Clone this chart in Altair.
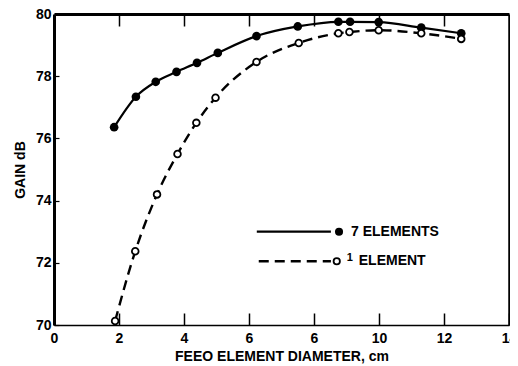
import altair as alt
import pandas as pd

# --- data ---
x_seven = [1.85, 2.52, 3.13, 3.77, 4.40, 5.04, 6.23, 7.50, 8.75, 9.11, 9.99, 11.30, 12.53]
y_seven = [76.36, 77.34, 77.82, 78.14, 78.43, 78.75, 79.29, 79.60, 79.75, 79.75, 79.74, 79.56, 79.38]
x_one = [1.88, 2.50, 3.17, 3.80, 4.38, 4.97, 6.23, 7.53, 8.75, 9.09, 9.99, 11.30, 12.53]
y_one = [70.13, 72.37, 74.20, 75.50, 76.50, 77.31, 78.46, 79.07, 79.38, 79.42, 79.48, 79.38, 79.20]

x_ticks = [0, 2, 4, 6, 8, 10, 12, 14]
x_tick_labels = ["0", "2", "4", "6", "6", "10", "12", "14"]
y_ticks = [70, 72, 74, 76, 78, 80]

legend_series = ["7 ELEMENTS", "1 ELEMENT"]
legend_y = [73.0, 72.05]
legend_x_start = [6.24, 6.30]
legend_x_end = [8.52, 8.52]
legend_marker_x = [8.77, 8.70]

df7 = pd.DataFrame({"x": x_seven, "y": y_seven})
df1 = pd.DataFrame({"x": x_one, "y": y_one})

FONT = "Liberation Sans"
xs = alt.Scale(domain=[0, 14], nice=False, zero=False)
ys = alt.Scale(domain=[70, 80], nice=False, zero=False)

label_expr = "[" + ",".join("'" + s + "'" for s in x_tick_labels) + "][round(datum.value/2)]"

x_main = alt.X("x:Q", scale=xs, axis=alt.Axis(
    orient="bottom", values=x_ticks, labelExpr=label_expr, offset=-12, tickSize=12,
    tickWidth=1.5, domain=False, labelPadding=6, labelFlush=False, labelOverlap=False,
    labelFontSize=14, labelFontWeight="bold",
    labelFont=FONT, labelColor="black", tickColor="black",
    title="FEEO ELEMENT DIAMETER, cm", titleFont=FONT, titleFontSize=14,
    titleFontWeight="bold", titlePadding=4, titleColor="black"))
y_main = alt.Y("y:Q", scale=ys, axis=alt.Axis(
    orient="left", values=y_ticks, offset=-5, tickSize=5, tickWidth=1.2, domain=False,
    labelPadding=3, labelFlush=False, labelOverlap=False, labelFontSize=14,
    labelFontWeight="bold", labelFont=FONT,
    labelColor="black", tickColor="black", title="GAIN dB", titleFont=FONT,
    titleFontSize=14, titleFontWeight="bold", titlePadding=8, titleColor="black"))

line7 = alt.Chart(df7).mark_line(color="black", strokeWidth=2.2, interpolate="monotone").encode(
    x=x_main, y=y_main)

pts7 = alt.Chart(df7).mark_point(shape="circle", filled=True, color="black", size=75, opacity=1).encode(
    x=alt.X("x:Q", scale=xs, axis=None), y=alt.Y("y:Q", scale=ys, axis=None))

line1 = alt.Chart(df1).mark_line(color="black", strokeWidth=2.4, strokeDash=[10, 6],
                                 interpolate="monotone").encode(
    x=alt.X("x:Q", scale=xs, axis=None), y=alt.Y("y:Q", scale=ys, axis=None))

pts1 = alt.Chart(df1).mark_point(shape="circle", filled=True, fill="white", stroke="black",
                                 strokeWidth=1.8, size=45, opacity=1).encode(
    x=alt.X("x:Q", scale=xs, axis=None), y=alt.Y("y:Q", scale=ys, axis=None))

# frame / extra axes
frameB = alt.Chart(df7).mark_point(opacity=0).encode(
    x=alt.X("x:Q", scale=xs, axis=alt.Axis(orient="top", values=[2, 4, 6, 8, 10, 12], offset=-12,
                                           tickSize=12, tickWidth=1.5, domain=False, labels=False,
                                           title=None, tickColor="black")),
    y=alt.Y("y:Q", scale=ys, axis=alt.Axis(orient="left", ticks=False, labels=False, title=None,
                                           domainWidth=3, domainColor="black")))
frameC = alt.Chart(df7).mark_point(opacity=0).encode(
    x=alt.X("x:Q", scale=xs, axis=alt.Axis(orient="top", ticks=False, labels=False, title=None,
                                           domainWidth=3, domainColor="black")),
    y=alt.Y("y:Q", scale=ys, axis=alt.Axis(orient="right", ticks=False, labels=False, title=None,
                                           domainWidth=2.5, domainColor="black")))
frameD = alt.Chart(df7).mark_point(opacity=0).encode(
    x=alt.X("x:Q", scale=xs, axis=alt.Axis(orient="bottom", ticks=False, labels=False, title=None,
                                           domainWidth=1.5, domainColor="black")),
    y=alt.Y("y:Q", scale=ys, axis=None))

# legend drawn inside the plot
leg = pd.DataFrame({"series": legend_series, "y": legend_y, "x0": legend_x_start,
                    "x1": legend_x_end, "xm": legend_marker_x})
ax_none_x = alt.X("x0:Q", scale=xs, axis=None)
leg_line7 = alt.Chart(leg.iloc[[0]]).mark_rule(color="black", strokeWidth=2.2).encode(
    x=ax_none_x, x2="x1:Q", y=alt.Y("y:Q", scale=ys, axis=None))
leg_line1 = alt.Chart(leg.iloc[[1]]).mark_rule(color="black", strokeWidth=2.4, strokeDash=[10, 6]).encode(
    x=ax_none_x, x2="x1:Q", y=alt.Y("y:Q", scale=ys, axis=None))
leg_pt7 = alt.Chart(leg.iloc[[0]]).mark_point(shape="circle", filled=True, color="black", size=65, opacity=1).encode(
    x=alt.X("xm:Q", scale=xs, axis=None), y=alt.Y("y:Q", scale=ys, axis=None))
leg_pt1 = alt.Chart(leg.iloc[[1]]).mark_point(shape="circle", filled=True, fill="white", stroke="black",
                                              strokeWidth=1.8, size=40, opacity=1).encode(
    x=alt.X("xm:Q", scale=xs, axis=None), y=alt.Y("y:Q", scale=ys, axis=None))
leg_txt7 = alt.Chart(leg.iloc[[0]]).mark_text(align="left", baseline="middle", dx=12, font=FONT,
                                              fontSize=14, fontWeight="bold", color="black").encode(
    x=alt.X("xm:Q", scale=xs, axis=None), y=alt.Y("y:Q", scale=ys, axis=None), text="series:N")
leg_sup1 = alt.Chart(leg.iloc[[1]]).mark_text(align="left", baseline="middle", dx=10, dy=-3, font=FONT,
                                              fontSize=11, fontWeight="bold", color="black").encode(
    x=alt.X("xm:Q", scale=xs, axis=None), y=alt.Y("y:Q", scale=ys, axis=None), text=alt.value("1"))
leg_txt1 = alt.Chart(leg.iloc[[1]]).mark_text(align="left", baseline="middle", dx=22, font=FONT,
                                              fontSize=14, fontWeight="bold", color="black").encode(
    x=alt.X("xm:Q", scale=xs, axis=None), y=alt.Y("y:Q", scale=ys, axis=None), text=alt.value("ELEMENT"))

chart = alt.layer(line7, pts7, line1, pts1, frameB, frameC, frameD,
                  leg_line7, leg_line1, leg_pt7, leg_pt1, leg_txt7, leg_sup1, leg_txt1).resolve_axis(
    x="independent", y="independent").properties(
    width=455, height=311,
    autosize=alt.AutoSizeParams(type="none"),
    padding={"left": 46, "top": 6, "right": 1, "bottom": 41},
    background="white",
).configure_view(stroke=None).configure_axis(grid=False)

chart.save("out.html", embed_options={"renderer": "svg", "actions": False})
